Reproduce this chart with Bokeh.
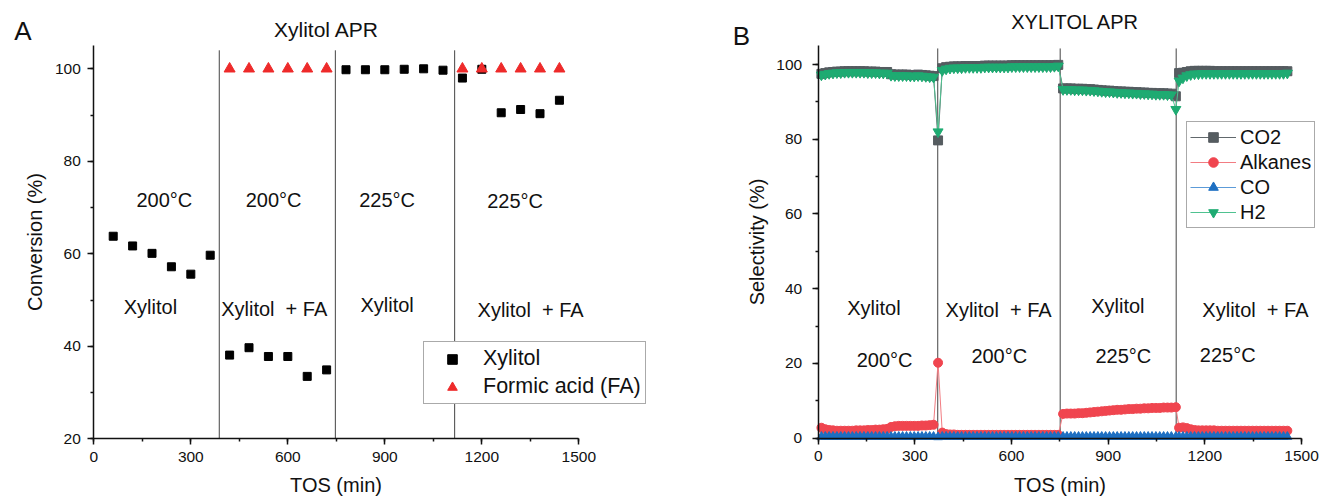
from bokeh.plotting import figure
from bokeh.layouts import row
from bokeh.models import Range1d, SingleIntervalTicker, Legend, LegendItem, Label
from bokeh.core.properties import value
from bokeh.embed import file_html
from bokeh.resources import INLINE

FONT = "Liberation Sans"

# ---------------- Panel A data ----------------
tos_xylitol = [60, 120, 180, 240, 300, 360, 420, 480, 540, 600, 660, 720,
               780, 840, 900, 960, 1020, 1080, 1140, 1200, 1260, 1320, 1380, 1440]
conv_xylitol = [63.8, 61.7, 60.1, 57.2, 55.6, 59.7, 38.1, 39.7, 37.8, 37.8, 33.5, 34.9,
                99.8, 99.8, 99.8, 99.9, 100.0, 99.7, 98.0, 99.9, 90.5, 91.2, 90.3, 93.2]
tos_fa = [420, 480, 540, 600, 660, 720, 1140, 1200, 1260, 1320, 1380, 1440]
conv_fa = [100.0, 100.0, 100.0, 100.0, 100.0, 100.0, 100.0, 100.0, 100.0, 100.0, 100.0, 100.0]
a_dividers = [388, 747, 1116]
a_temp_labels = ["200°C", "200°C", "225°C", "225°C"]
a_temp_x = [218, 556, 907, 1303]
a_temp_y = [71.7, 71.7, 71.7, 71.5]
a_feed_labels = ["Xylitol", "Xylitol\u00a0 + FA", "Xylitol", "Xylitol\u00a0 + FA"]
a_feed_x = [175, 558, 907, 1351]
a_feed_y = [48.5, 48.1, 49.0, 47.9]

# ---------------- Panel B data ----------------
tos_seg1 = [10, 22, 34, 46, 58, 70, 82, 94, 106, 118, 130, 142, 154, 166, 178, 190, 202, 214,
            226, 238, 250, 262, 274, 286, 298, 310, 322, 334, 346, 358]
tos_seg2 = [385, 397, 409, 421, 433, 445, 457, 469, 481, 493, 505, 517, 529, 541, 553, 565,
            577, 589, 601, 613, 625, 637, 649, 661, 673, 685, 697, 709, 721, 733, 745]
tos_seg3 = [760, 772, 784, 796, 808, 820, 832, 844, 856, 868, 880, 892, 904, 916, 928, 940,
            952, 964, 976, 988, 1000, 1012, 1024, 1036, 1048, 1060, 1072, 1084, 1096]
tos_seg4 = [1120, 1132, 1144, 1156, 1168, 1180, 1192, 1204, 1216, 1228, 1240, 1252, 1264, 1276,
            1288, 1300, 1312, 1324, 1336, 1348, 1360, 1372, 1384, 1396, 1408, 1420, 1432, 1444, 1456]
tos_b = tos_seg1 + [372] + tos_seg2 + tos_seg3 + [1110] + tos_seg4

co2 = ([97.5, 97.7, 97.9, 98.0, 98.1, 98.1, 98.2, 98.2, 98.2, 98.2, 98.2, 98.2, 98.1, 98.1, 98.1,
        98.0, 98.0, 98.0, 97.4, 97.3, 97.3, 97.3, 97.3, 97.2, 97.2, 97.3, 97.2, 97.1, 97.0, 96.9]
       + [79.7]
       + [99.0, 99.3, 99.4, 99.5, 99.5, 99.5, 99.6, 99.6, 99.6, 99.6, 99.6, 99.7, 99.7, 99.7, 99.7,
          99.7, 99.7, 99.7, 99.8, 99.8, 99.8, 99.8, 99.8, 99.8, 99.8, 99.8, 99.8, 99.8, 99.8, 99.8, 99.9]
       + [93.6, 93.6, 93.6, 93.5, 93.5, 93.5, 93.4, 93.4, 93.3, 93.2, 93.1, 93.0, 93.0, 92.9, 92.8,
          92.8, 92.7, 92.7, 92.6, 92.6, 92.5, 92.5, 92.4, 92.4, 92.3, 92.3, 92.3, 92.2, 92.2]
       + [91.5]
       + [97.7, 97.8, 98.0, 98.2, 98.3, 98.3, 98.3, 98.3, 98.3, 98.2, 98.2, 98.2, 98.2, 98.2, 98.2,
          98.2, 98.2, 98.2, 98.2, 98.2, 98.2, 98.2, 98.2, 98.2, 98.2, 98.2, 98.2, 98.2, 98.2])

h2 = ([97.2, 97.4, 97.6, 97.7, 97.8, 97.8, 97.9, 97.9, 97.9, 97.9, 97.9, 97.9, 97.8, 97.8, 97.8,
       97.7, 97.7, 97.7, 97.1, 97.0, 97.0, 97.0, 97.0, 96.9, 96.9, 97.0, 96.9, 96.8, 96.7, 96.6]
      + [82.0]
      + [98.4, 98.8, 99.0, 99.1, 99.1, 99.1, 99.2, 99.2, 99.2, 99.2, 99.2, 99.3, 99.3, 99.3, 99.3,
         99.3, 99.3, 99.3, 99.4, 99.4, 99.4, 99.4, 99.4, 99.4, 99.4, 99.4, 99.4, 99.4, 99.4, 99.5, 99.6]
      + [93.3, 93.3, 93.3, 93.2, 93.2, 93.2, 93.1, 93.1, 93.0, 92.9, 92.8, 92.7, 92.7, 92.6, 92.5,
         92.5, 92.4, 92.4, 92.3, 92.3, 92.2, 92.2, 92.1, 92.1, 92.0, 92.0, 92.0, 91.9, 91.9]
      + [88.0]
      + [95.6, 96.4, 97.0, 97.3, 97.5, 97.5, 97.6, 97.6, 97.6, 97.6, 97.6, 97.6, 97.6, 97.6, 97.6,
         97.6, 97.6, 97.6, 97.6, 97.6, 97.6, 97.6, 97.6, 97.6, 97.6, 97.6, 97.6, 97.6, 97.7])

alkanes = ([2.8, 2.4, 2.2, 2.1, 2.0, 2.0, 2.0, 2.0, 2.0, 2.1, 2.1, 2.1, 2.2, 2.2, 2.3,
            2.3, 2.4, 2.5, 3.0, 3.2, 3.3, 3.3, 3.3, 3.3, 3.3, 3.3, 3.4, 3.4, 3.5, 3.6]
           + [20.2]
           + [1.5, 1.1, 1.0, 1.0, 0.9, 0.9, 0.9, 0.9, 0.9, 0.9, 0.9, 0.9, 0.9, 0.9, 0.9,
              0.9, 0.9, 0.9, 0.9, 0.9, 0.9, 0.9, 0.9, 0.9, 0.9, 0.9, 0.9, 0.9, 0.9, 0.9, 0.9]
           + [6.5, 6.6, 6.6, 6.6, 6.7, 6.7, 6.8, 6.9, 7.0, 7.1, 7.2, 7.3, 7.4, 7.5, 7.6,
              7.6, 7.7, 7.8, 7.8, 7.9, 7.9, 8.0, 8.0, 8.1, 8.1, 8.1, 8.2, 8.2, 8.2]
           + [8.3]
           + [2.8, 2.9, 2.7, 2.4, 2.2, 2.1, 2.1, 2.1, 2.1, 2.1, 2.0, 2.0, 2.0, 2.0, 2.0,
              2.0, 2.0, 2.0, 2.0, 2.0, 2.0, 2.0, 2.0, 2.0, 2.0, 2.0, 2.0, 2.0, 2.0])

co = ([0.4, 0.4, 0.4, 0.4, 0.4, 0.4, 0.4, 0.4, 0.4, 0.4, 0.4, 0.4, 0.4, 0.4, 0.4,
       0.4, 0.4, 0.4, 0.4, 0.4, 0.4, 0.4, 0.4, 0.4, 0.4, 0.4, 0.4, 0.4, 0.4, 0.4]
      + [0.3]
      + [0.4, 0.4, 0.4, 0.4, 0.4, 0.4, 0.4, 0.4, 0.4, 0.4, 0.4, 0.4, 0.4, 0.4, 0.4,
         0.4, 0.4, 0.4, 0.4, 0.4, 0.4, 0.4, 0.4, 0.4, 0.4, 0.4, 0.4, 0.4, 0.4, 0.4, 0.4]
      + [0.4, 0.4, 0.4, 0.4, 0.4, 0.4, 0.4, 0.4, 0.4, 0.4, 0.4, 0.4, 0.4, 0.4, 0.4,
         0.4, 0.4, 0.4, 0.4, 0.4, 0.4, 0.4, 0.4, 0.4, 0.4, 0.4, 0.4, 0.4, 0.4]
      + [0.4]
      + [0.4, 0.4, 0.4, 0.4, 0.4, 0.4, 0.4, 0.4, 0.4, 0.4, 0.4, 0.4, 0.4, 0.4, 0.4,
         0.4, 0.4, 0.4, 0.4, 0.4, 0.4, 0.4, 0.4, 0.4, 0.4, 0.4, 0.4, 0.4, 0.4])

b_dividers = [371, 751, 1111]
b_feed_labels = ["Xylitol", "Xylitol\u00a0 + FA", "Xylitol", "Xylitol\u00a0 + FA"]
b_feed_x = [173, 560, 930, 1357]
b_feed_y = [34.9, 34.3, 35.4, 34.3]
b_temp_labels = ["200°C", "200°C", "225°C", "225°C"]
b_temp_x = [206, 562, 947, 1271]
b_temp_y = [20.8, 21.9, 21.9, 22.4]


def style(p, x_cross, y_cross, x_bounds, y_bounds, y_standoff, ylabel):
    p.grid.visible = False
    p.outline_line_color = None
    p.xaxis.ticker = SingleIntervalTicker(interval=300, num_minor_ticks=2)
    p.yaxis.ticker = SingleIntervalTicker(interval=20, num_minor_ticks=2)
    p.xaxis.fixed_location = y_cross
    p.yaxis.fixed_location = x_cross
    p.xaxis.bounds = x_bounds
    p.yaxis.bounds = y_bounds
    p.xaxis.axis_label = "TOS (min)"
    p.yaxis.axis_label = ylabel
    for ax in p.axis:
        ax.axis_line_width = 1.5
        ax.axis_line_color = "#111111"
        ax.major_tick_line_width = 1.5
        ax.minor_tick_line_width = 1.5
        ax.major_tick_line_color = "#111111"
        ax.minor_tick_line_color = "#111111"
        ax.major_tick_in = 0
        ax.major_tick_out = 6
        ax.minor_tick_in = 0
        ax.minor_tick_out = 3
        ax.major_label_text_font = FONT
        ax.major_label_text_font_size = "15.5px"
        ax.major_label_text_color = "#111111"
        ax.axis_label_text_font = FONT
        ax.axis_label_text_font_size = "20px"
        ax.axis_label_text_font_style = "normal"
        ax.axis_label_text_color = "#111111"
    p.xaxis.major_label_standoff = 7
    p.yaxis.major_label_standoff = y_standoff
    p.xaxis.axis_label_standoff = 9
    p.yaxis.axis_label_standoff = 6


def label(p, x, y, text, size):
    p.add_layout(Label(x=x, y=y, text=text, text_align="center", text_baseline="middle",
                       text_font=FONT, text_font_size=size, text_color="#111111"))


# ---------------- Figure A ----------------
pa = figure(width=720, height=499, x_range=Range1d(-288.6, 1938.2), y_range=Range1d(6.88, 114.77),
            min_border=0, output_backend="svg", toolbar_location=None)
style(pa, 0, 20, (0, 1500), (20, 105), 7, "Conversion (%)")

pa.segment(x0=a_dividers, x1=a_dividers, y0=[20] * 3, y1=[104] * 3, line_color="#444444", line_width=1)
sq = pa.scatter(tos_xylitol, conv_xylitol, marker="square", size=8, fill_color="black", line_color="black")
tr = pa.scatter(tos_fa, conv_fa, marker="triangle", size=11, fill_color="#ee2a2a", line_color="#ee2a2a")
pa.text(x=a_temp_x, y=a_temp_y, text=a_temp_labels, text_font=value(FONT), text_font_size="20px",
        text_align="center", text_baseline="middle", text_color="#111111")
pa.text(x=a_feed_x, y=a_feed_y, text=a_feed_labels, text_font=value(FONT), text_font_size="20px",
        text_align="center", text_baseline="middle", text_color="#111111")

leg_a = Legend(items=[LegendItem(label="Xylitol", renderers=[sq]),
                      LegendItem(label="Formic acid (FA)", renderers=[tr])],
               location=(423, 95), margin=0, padding=4, spacing=3,
               glyph_width=48, glyph_height=24, label_height=24, label_standoff=7,
               label_text_font=FONT, label_text_font_size="21.5px", label_text_color="#111111",
               border_line_color="#555555", border_line_width=1, background_fill_alpha=1)
pa.add_layout(leg_a)
label(pa, 719.7, 108.43, "Xylitol APR", "21px")
label(pa, -219, 108.17, "A", "26px")

# ---------------- Figure B ----------------
pb = figure(width=601, height=499, x_range=Range1d(-303.2, 1562.0), y_range=Range1d(-16.4, 117.13),
            min_border=0, output_backend="svg", toolbar_location=None)
style(pb, 0, 0, (0, 1500), (0, 105.1), 10, "Selectivity (%)")

pb.segment(x0=b_dividers, x1=b_dividers, y0=[0] * 3, y1=[104.3] * 3, line_color="#444444", line_width=1)

series = [("CO2", co2, "square", "#555c60", "#61686c", 9),
          ("Alkanes", alkanes, "circle", "#f0454f", "#f27c82", 9),
          ("CO", co, "triangle", "#1d6fc2", "#5c9bd8", 9),
          ("H2", h2, "inverted_triangle", "#1eab72", "#4fc290", 10)]
items = []
for name, ys, marker, col, lcol, sz in series:
    ln = pb.line(tos_b, ys, line_color=lcol, line_width=1)
    sc = pb.scatter(tos_b, ys, marker=marker, size=sz, fill_color=col, line_color=col)
    items.append(LegendItem(label=name, renderers=[ln, sc]))

pb.text(x=b_feed_x, y=b_feed_y, text=b_feed_labels, text_font=value(FONT), text_font_size="20px",
        text_align="center", text_baseline="middle", text_color="#111111")
pb.text(x=b_temp_x, y=b_temp_y, text=b_temp_labels, text_font=value(FONT), text_font_size="20px",
        text_align="center", text_baseline="middle", text_color="#111111")

leg_b = Legend(items=items, location=(466, 271), margin=0, padding=3, spacing=1,
               glyph_width=46, glyph_height=24, label_height=24, label_standoff=4,
               label_text_font=FONT, label_text_font_size="20px", label_text_color="#111111",
               border_line_color="#555555", border_line_width=1, background_fill_alpha=1)
pb.add_layout(leg_b)
label(pb, 798.5, 111.32, "XYLITOL APR", "20px")
label(pb, -238, 107.76, "B", "26px")

layout = row(pa, pb)
open("out.html", "w").write(file_html(layout, INLINE))
